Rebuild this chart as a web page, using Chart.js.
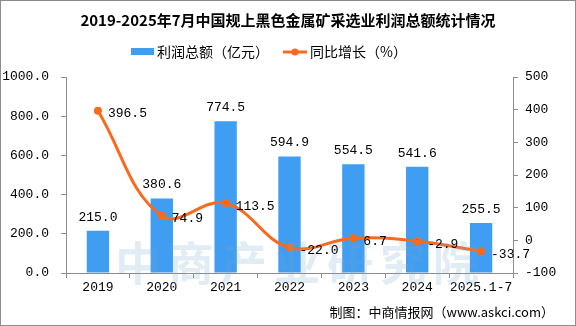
<!DOCTYPE html>
<html lang="zh-CN">
<head>
    <meta charset="UTF-8">
    <title>黑色金属矿采选业利润总额</title>
    <script src="https://cdn.jsdelivr.net/npm/chart.js"></script>
    <style>
        body { margin: 0; background: #fff; }
        #box { width: 576px; height: 326px; }
    </style>
</head>
<body>
    <div id="box"><canvas id="grafico" width="576" height="326"></canvas></div>
<script>
    const anos = ['2019', '2020', '2021', '2022', '2023', '2024', '2025.1-7'];
    const lucro = [215.0, 380.6, 774.5, 594.9, 554.5, 541.6, 255.5];
    const crescimento = [396.5, 74.9, 113.5, -22.0, 6.7, -2.9, -33.7];
    const ticksEsq = [0, 200, 400, 600, 800, 1000];

    const corBarra = '#3f9df2';
    const corLinha = '#fa6a1c';
    const fonteNum = '"Liberation Mono", "DejaVu Sans Mono", monospace';
    const fonteCJK = '"Noto Sans CJK SC", sans-serif';

    const extras = {
        id: 'extras',
        afterDatasetsDraw(chart) {
            const ctx = chart.ctx;
            ctx.save();
            // marca d'agua
            ctx.fillStyle = 'rgba(120, 170, 205, 0.22)';
            ctx.font = 'bold 46px ' + fonteCJK;
            ctx.textAlign = 'center';
            ctx.textBaseline = 'alphabetic';
            '中商产业研究院'.split('').forEach((c, i) => {
                ctx.fillText(c, 138 + i * 53, 280);
            });

            // rotulos
            ctx.fillStyle = '#000';
            ctx.font = '13px ' + fonteNum;
            const barras = chart.getDatasetMeta(0).data;
            barras.forEach((b, i) => {
                ctx.textAlign = 'center';
                ctx.textBaseline = 'bottom';
                ctx.fillText(lucro[i].toFixed(1), b.x, b.y - 7);
            });
            const pontos = chart.getDatasetMeta(1).data;
            pontos.forEach((p, i) => {
                ctx.textAlign = 'left';
                ctx.textBaseline = 'middle';
                ctx.fillText(crescimento[i].toFixed(1), p.x + 10, p.y + 3);
            });
            ctx.restore();
        },
        afterDraw(chart) {
            const ctx = chart.ctx;
            ctx.save();
            ctx.fillStyle = '#000';
            ctx.textBaseline = 'middle';
            ctx.textAlign = 'center';
            ctx.font = 'bold 15px ' + fonteCJK;
            ctx.fillText('2019-2025年7月中国规上黑色金属矿采选业利润总额统计情况', 288, 20);

            // legenda
            ctx.fillStyle = corBarra;
            ctx.fillRect(131, 48, 23, 7);
            ctx.fillStyle = '#000';
            ctx.textAlign = 'left';
            ctx.font = '14px ' + fonteCJK;
            ctx.fillText('利润总额（亿元）', 157, 52);
            ctx.strokeStyle = corLinha;
            ctx.lineWidth = 3;
            ctx.beginPath();
            ctx.moveTo(283, 52);
            ctx.lineTo(307, 52);
            ctx.stroke();
            ctx.fillStyle = corLinha;
            ctx.beginPath();
            ctx.arc(295, 52, 3.5, 0, Math.PI * 2);
            ctx.fill();
            ctx.fillStyle = '#000';
            ctx.fillText('同比增长（%）', 310, 52);

            ctx.font = '13px ' + fonteCJK;
            ctx.textAlign = 'right';
            ctx.fillText('制图：中商情报网（www.askci.com）', 554, 312);

            ctx.strokeStyle = '#8c8c8c';
            ctx.lineWidth = 1;
            ctx.strokeRect(0.5, 0.5, 575, 325);
            ctx.restore();
        }
    };

    const config = {
        data: {
            labels: anos,
            datasets: [{
                type: 'bar',
                label: '利润总额（亿元）',
                data: lucro,
                backgroundColor: corBarra,
                barPercentage: 0.35,
                categoryPercentage: 1,
                yAxisID: 'y',
                order: 2
            }, {
                type: 'line',
                label: '同比增长（%）',
                data: crescimento,
                borderColor: corLinha,
                backgroundColor: corLinha,
                borderWidth: 3,
                tension: 0.4,
                pointRadius: 4,
                pointBackgroundColor: corLinha,
                pointBorderWidth: 0,
                yAxisID: 'y1',
                order: 1
            }]
        },
        options: {
            responsive: false,
            animation: false,
            layout: { padding: { top: 77, left: 0, right: 0, bottom: 28 } },
            plugins: {
                legend: { display: false },
                title: { display: false },
                tooltip: { enabled: false }
            },
            scales: {
                x: {
                    offset: true,
                    grid: { display: true, offset: true, drawOnChartArea: false, tickLength: 5, color: '#8c8c8c' },
                    border: { color: '#8c8c8c' },
                    ticks: {
                        color: '#000',
                        font: { family: fonteNum, size: 13 },
                        padding: 2,
                        maxRotation: 0,
                        autoSkip: false
                    },
                    afterFit(s) { s.height = 25; }
                },
                y: {
                    position: 'left',
                    min: 0,
                    max: 1000,
                    afterBuildTicks(s) { s.ticks = ticksEsq.map(v => ({ value: v })); },
                    grid: { drawOnChartArea: false, tickLength: 5, color: '#8c8c8c' },
                    border: { color: '#8c8c8c' },
                    ticks: {
                        color: '#000',
                        font: { family: fonteNum, size: 13 },
                        padding: 12,
                        callback: v => v.toFixed(1)
                    },
                    afterFit(s) { s.width = 66; }
                },
                y1: {
                    position: 'right',
                    min: -100,
                    max: 500,
                    grid: { drawOnChartArea: false, tickLength: 5, color: '#8c8c8c' },
                    border: { color: '#8c8c8c' },
                    ticks: {
                        stepSize: 100,
                        color: '#000',
                        font: { family: fonteNum, size: 13 },
                        padding: 7
                    },
                    afterFit(s) { s.width = 63; }
                }
            }
        },
        plugins: [extras]
    };

    new Chart(document.getElementById('grafico'), config);
</script>
</body>
</html>
